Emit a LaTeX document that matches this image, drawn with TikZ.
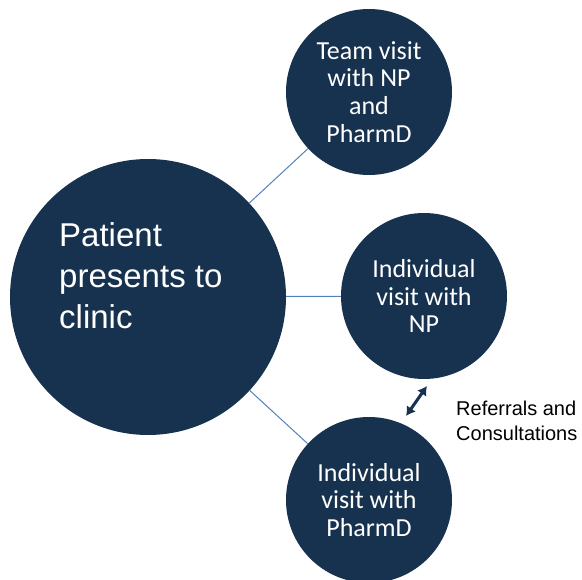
\documentclass[tikz,border=0pt]{standalone}
\usepackage{fontspec}
\setmainfont{Liberation Sans}
\newfontfamily\calibri{Carlito}
\usetikzlibrary{arrows.meta}
\definecolor{navy}{RGB}{23,50,79}
\definecolor{linkblue}{RGB}{79,129,189}
\begin{document}
\begin{tikzpicture}[x=1pt, y=-1pt,
    bigcircle/.style={circle, fill=navy, minimum size=276pt, inner sep=0pt},
    visit/.style={circle, fill=navy, minimum size=166pt, inner sep=0pt, text=white,
      align=center, font=\calibri\fontsize{26}{27.8}\selectfont},
    link/.style={draw=linkblue, line width=1pt},
    refarrow/.style={draw=navy, line width=3pt, {Latex[length=9pt,width=11pt]}-{Latex[length=9pt,width=11pt]}}]
    \useasboundingbox (0,0) rectangle (582,580);

    % Cercle principal
    \node[bigcircle] (patient) at (148,297) {};
    \node[anchor=base west, align=left, text=white, inner sep=0pt,
      font=\fontsize{33}{41}\selectfont] (patienttxt) at (59,329) {Patient\\presents to\\clinic};

    % Trois types de visite
    \node[visit] (team) at (369,92) {Team visit\\with NP\\and\\PharmD};
    \node[visit] (np) at (424,296) {Individual\\visit with\\NP};
    \node[visit] (pharmd) at (369,500) {Individual\\visit with\\PharmD};

    % Liens
    \draw[link] (patient) -- (team);
    \draw[link] (patient) -- (np);
    \draw[link] (patient) -- (pharmd);

    % Orientations entre NP et PharmD
    \coordinate (refA) at (427,386);
    \coordinate (refB) at (406,416);
    \draw[refarrow] (refA) -- (refB);
    \node[anchor=base west, align=left, inner sep=0pt,
      font=\fontsize{20}{25}\selectfont] (refs) at (456,441) {Referrals and\\Consultations};
\end{tikzpicture}
\end{document}
